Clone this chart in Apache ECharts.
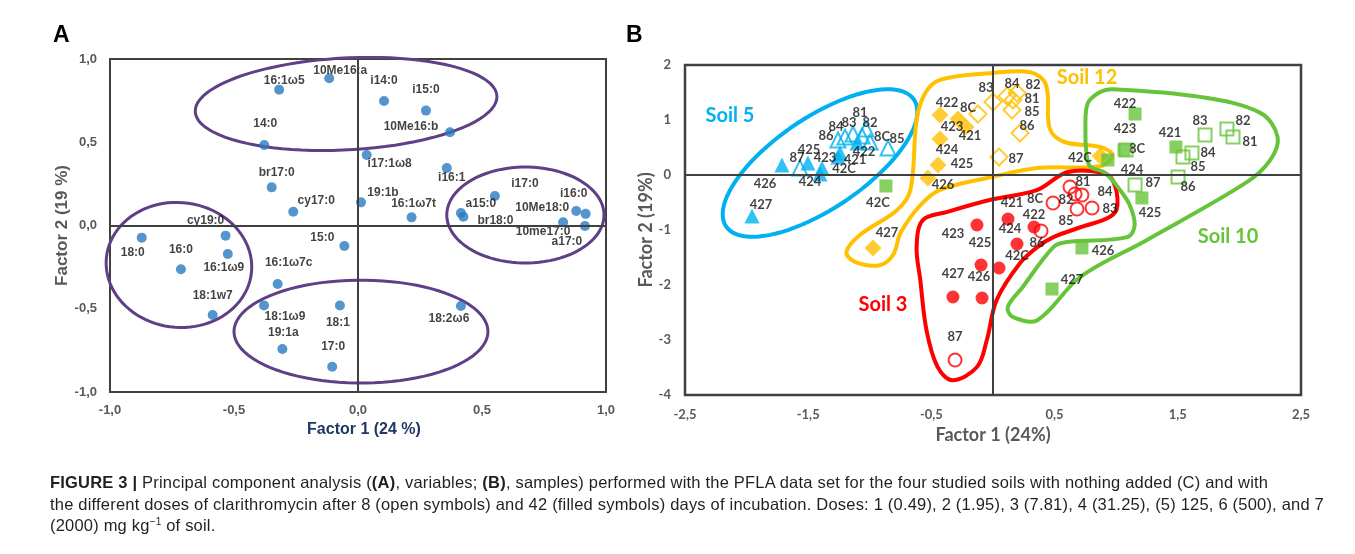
<!DOCTYPE html>
<html>
<head>
<meta charset="utf-8">
<script src="https://cdn.jsdelivr.net/npm/echarts@6/dist/echarts.min.js"></script>
<style>
  html, body { margin: 0; padding: 0; background: #fff; }
  #chart { position: absolute; left: 0; top: 0; width: 1355px; height: 554px; }
  #caption {
    position: absolute; left: 50px; top: 472px;
    font-family: "Liberation Sans", Arial, sans-serif; font-size: 16.5px; letter-spacing: 0.2px;
    line-height: 21.5px; color: #231f20; white-space: nowrap;
  }
  #caption sup { font-size: 10px; vertical-align: 6px; line-height: 0; }
</style>
</head>
<body>
<div id="chart"></div>
<div id="caption">
  <b>FIGURE 3 |</b> Principal component analysis (<b>(A)</b>, variables; <b>(B)</b>, samples) performed with the PFLA data set for the four studied soils with nothing added (C) and with<br>
  the different doses of clarithromycin after 8 (open symbols) and 42 (filled symbols) days of incubation. Doses: 1 (0.49), 2 (1.95), 3 (7.81), 4 (31.25), (5) 125, 6 (500), and 7<br>
  (2000) mg kg<sup>−1</sup> of soil.
</div>
<script>
// ---- Panel A: PLFA variables (loadings) ----
const varNames = ['16:1ω5', '10Me16:a', 'i14:0', 'i15:0', '10Me16:b', '14:0', 'i17:1ω8', 'i16:1',
  'br17:0', 'cy17:0', '19:1b', '16:1ω7t', 'i17:0', 'a15:0', 'br18:0', 'i16:0', '10Me18:0',
  '10me17:0', 'a17:0', '18:0', '16:0', 'cy19:0', '16:1ω9', '18:1w7', '16:1ω7c', '18:1ω9',
  '19:1a', '15:0', '18:1', '17:0', '18:2ω6']
const varF1 = [-0.318, -0.116, 0.105, 0.274, 0.371, -0.378, 0.035, 0.358, -0.348, -0.261, 0.012,
  0.216, 0.552, 0.415, 0.425, 0.918, 0.880, 0.827, 0.915, -0.872, -0.714, -0.534, -0.525, -0.586,
  -0.324, -0.379, -0.305, -0.055, -0.073, -0.104, 0.415]
const varF2 = [0.816, 0.884, 0.748, 0.690, 0.560, 0.483, 0.423, 0.345, 0.229, 0.083, 0.139, 0.049,
  0.177, 0.075, 0.053, 0.070, 0.087, 0.020, -0.003, -0.073, -0.263, -0.061, -0.171, -0.538, -0.351,
  -0.481, -0.742, -0.123, -0.481, -0.848, -0.483]
// label offsets from the point, px
const varLabelOffset = [[5, -9], [11, -8], [0, -20], [0, -21], [-39, -6], [1, -21], [23, 9], [5, 10],
  [5, -15], [23, -11], [22, -10], [2, -14], [30, -12], [20, -9], [32, 4], [-12, -20], [-34, -3],
  [-20, 10], [-18, 16], [-9, 15], [0, -20], [-20, -15], [-4, 14], [0, -19], [11, -21], [21, 11],
  [1, -16], [-22, -8], [-2, 17], [1, -20], [-12, 13]]

// ---- Panel B: samples (42 = 42 days, filled; 8 = 8 days, open) ----
const sampleNames = ['421', '422', '423', '424', '425', '426', '427', '42C',
  '81', '82', '83', '84', '85', '86', '87', '8C']

const soil5F1 = [-1.242, -1.104, -1.388, -1.404, -1.502, -1.713, -1.956, -1.258,
  -1.031, -1.063, -1.136, -1.201, -0.852, -1.258, -1.567, -0.998]
const soil5F2 = [0.400, 0.582, 0.127, 0.018, 0.218, 0.182, -0.745, 0.327,
  0.836, 0.709, 0.745, 0.691, 0.491, 0.636, 0.127, 0.600]
const soil5LabelOffset = [[15, 7], [7, 9], [3, -10], [-10, 8], [1, -13], [-17, 19], [9, -11], [6, 12],
  [-6, -16], [8, -13], [-4, -11], [-9, -10], [9, -9], [-12, -4], [-3, -10], [12, -5]]

const soil12F1 = [-0.219, -0.430, -0.284, -0.430, -0.446, -0.528, -0.974, 0.869,
  0.162, 0.195, 0.000, 0.114, 0.154, 0.219, 0.049, -0.122]
const soil12F2 = [0.873, 1.091, 1.018, 0.655, 0.182, -0.055, -1.327, 0.345,
  1.364, 1.491, 1.327, 1.436, 1.182, 0.764, 0.327, 1.109]
const soil12LabelOffset = [[4, 9], [7, -12], [-6, 8], [7, 11], [24, -1], [15, 7], [14, -15], [-20, 2],
  [19, -1], [16, -8], [-7, -14], [5, -12], [20, 2], [7, -7], [17, 2], [-10, -6]]

const soil10F1 = [1.485, 1.153, 1.063, 0.933, 1.209, 0.722, 0.479, -0.869,
  1.948, 1.899, 1.721, 1.615, 1.542, 1.502, 1.153, 1.080]
const soil10F2 = [0.509, 1.109, 0.455, 0.273, -0.418, -1.327, -2.073, -0.200,
  0.691, 0.836, 0.727, 0.400, 0.327, -0.036, -0.182, 0.455]
const soil10LabelOffset = [[-6, -14], [-10, -10], [1, -21], [24, 10], [8, 15], [21, 3], [20, -9], [-8, 17],
  [17, 5], [16, -8], [-5, -14], [16, 0], [15, 10], [10, 10], [18, -2], [11, -1]]

const soil3F1 = [0.122, 0.333, -0.130, 0.195, -0.097, -0.089, -0.325, 0.049,
  0.625, 0.666, 0.804, 0.722, 0.682, 0.390, -0.308, 0.487]
const soil3F2 = [-0.800, -0.945, -0.909, -1.255, -1.636, -2.236, -2.218, -1.691,
  -0.218, -0.345, -0.600, -0.364, -0.618, -1.018, -3.364, -0.509]
const soil3LabelOffset = [[4, -16], [0, -12], [-24, 9], [-7, -15], [-1, -22], [-3, -21], [0, -23], [18, -12],
  [13, -5], [-9, 6], [18, 1], [23, -3], [-11, 12], [-4, 12], [0, -23], [-18, -4]]

// group outlines drawn by hand in the original, in factor units
const ellipsesA = [
  { cx: -0.048, cy: 0.730, rx: 0.609, ry: 0.276, rot: 3 },
  { cx: 0.675, cy: 0.063, rx: 0.317, ry: 0.288, rot: 0 },
  { cx: -0.722, cy: -0.237, rx: 0.294, ry: 0.375, rot: -6 },
  { cx: 0.012, cy: -0.637, rx: 0.512, ry: 0.309, rot: 0 },
]
const soil5Ellipse = { cx: -1.404, cy: 0.218, rx: 0.92, ry: 0.37, rot: 34 }
const soil12Outline = [[-0.43, 1.73], [-0.02, 1.85], [0.30, 1.87], [0.43, 1.64], [0.46, 0.85], [0.58, 0.60],
  [0.87, 0.51], [0.97, 0.36], [0.87, 0.16], [0.38, 0.13], [-0.02, -0.04], [-0.43, -0.27], [-0.59, -0.55],
  [-0.75, -1.05], [-0.81, -1.45], [-0.92, -1.64], [-1.12, -1.58], [-1.19, -1.40], [-1.08, -1.09],
  [-0.78, -0.64], [-0.67, -0.27], [-0.62, 1.0], [-0.55, 1.49]]
const soil3Outline = [[-0.57, -0.82], [-0.37, -0.67], [-0.02, -0.45], [0.36, -0.27], [0.60, 0.05], [0.87, 0.05],
  [0.97, -0.09], [1.01, -0.55], [0.95, -0.76], [0.71, -0.95], [0.49, -1.13], [0.36, -1.31], [0.22, -1.6],
  [0.03, -2.27], [-0.05, -3.0], [-0.13, -3.49], [-0.33, -3.73], [-0.45, -3.49], [-0.54, -2.82],
  [-0.59, -1.91], [-0.62, -1.31]]
const soil10Outline = [[0.87, 1.51], [0.97, 1.56], [1.68, 1.42], [2.17, 1.13], [2.31, 0.69], [2.25, 0.27],
  [2.06, -0.13], [1.25, -1.18], [0.71, -1.85], [0.36, -2.64], [0.16, -2.58], [0.12, -2.4], [0.24, -2.04],
  [0.49, -1.31], [0.60, -1.22], [1.09, -1.13], [1.15, -0.91], [1.11, -0.55], [1.03, -0.27], [0.91, 0.04],
  [0.79, 0.15], [0.76, 0.36], [0.75, 0.87], [0.77, 1.31]]

const gray = '#595959'
const frame = '#404040'
const purple = '#5f3f86'
const labelFontB = 'Lato, "Open Sans", sans-serif'

function ellipsePoints(c, rx, ry, rotDeg) {
  const r = rotDeg * Math.PI / 180
  const pts = []
  for (let i = 0; i < 90; i++) {
    const t = i / 90 * 2 * Math.PI
    const x = rx * Math.cos(t)
    const y = ry * Math.sin(t)
    pts.push([c[0] + x * Math.cos(r) + y * Math.sin(r), c[1] - x * Math.sin(r) + y * Math.cos(r)])
  }
  return pts
}

function ellipseSeries(e, axis, color, width) {
  return {
    type: 'custom', xAxisIndex: axis, yAxisIndex: axis, silent: true, clip: false, z: 2,
    data: [[e.cx, e.cy]],
    renderItem: (params, api) => {
      const c = api.coord([e.cx, e.cy])
      const s = api.size([e.rx, e.ry])
      const rx = s[0]
      // the tilted soil-5 ellipse uses x units for both radii
      const ry = axis === 1 ? api.size([e.ry, 0])[0] : s[1]
      return {
        type: 'polygon',
        shape: { points: ellipsePoints(c, rx, ry, e.rot) },
        style: { fill: 'none', stroke: color, lineWidth: width },
      }
    },
  }
}

function outlineSeries(verts, color) {
  return {
    type: 'custom', xAxisIndex: 1, yAxisIndex: 1, silent: true, clip: false, z: 2,
    data: [verts[0]],
    renderItem: (params, api) => ({
      type: 'polygon',
      shape: { points: verts.map(v => api.coord(v)), smooth: 0.35 },
      style: { fill: 'none', stroke: color, lineWidth: 4 },
    }),
  }
}

function soilSeries(f1, f2, offsets, symbol, size, color, filled) {
  const data = []
  sampleNames.forEach((n, i) => {
    if (n.startsWith('42') !== filled) return
    data.push({ value: [f1[i], f2[i]], name: n, label: { offset: offsets[i] } })
  })
  return {
    type: 'scatter', xAxisIndex: 1, yAxisIndex: 1, z: filled ? 4 : 3,
    symbol, symbolSize: size, data,
    itemStyle: filled
      ? { color }
      : { color: 'rgba(255,255,255,0)', borderColor: color, borderWidth: 2 },
    label: {
      show: true, position: 'inside', formatter: '{b}',
      color: '#111', fontFamily: labelFontB, fontWeight: 'bold', fontSize: 13,
    },
  }
}

const fmtA = v => v.toFixed(1).replace('.', ',')
const fmtB = v => String(v).replace('.', ',')

const chart = echarts.init(document.getElementById('chart'), null, { renderer: 'canvas' })

const zeroLines = {
  silent: true, symbol: 'none', label: { show: false }, animation: false,
  lineStyle: { color: frame, width: 2, type: 'solid' },
  data: [{ xAxis: 0 }, { yAxis: 0 }],
}

const option = {
  animation: false,
  textStyle: { fontFamily: '"Liberation Sans", Arial, sans-serif' },
  grid: [
    { left: 110, top: 59, width: 496, height: 333, show: true, borderColor: frame, borderWidth: 2 },
    { left: 685, top: 65, width: 616, height: 330, show: true, borderColor: frame, borderWidth: 2.5 },
  ],
  xAxis: [
    {
      gridIndex: 0, type: 'value', min: -1, max: 1, interval: 0.5,
      axisLine: { show: false }, axisTick: { show: false }, splitLine: { show: false },
      axisLabel: { color: gray, fontWeight: 'bold', fontSize: 13, margin: 12, formatter: fmtA },
      name: 'Factor 1 (24 %)', nameLocation: 'middle', nameGap: 27,
      nameTextStyle: { color: '#1f3864', fontWeight: 'bold', fontSize: 16, padding: [0, 0, 0, 12] },
    },
    {
      gridIndex: 1, type: 'value', min: -2.5, max: 2.5, interval: 1,
      axisLine: { show: false }, axisTick: { show: false }, splitLine: { show: false },
      axisLabel: { color: gray, fontWeight: 'bold', fontSize: 13, margin: 13, fontFamily: labelFontB, formatter: fmtB },
      name: 'Factor 1 (24%)', nameLocation: 'middle', nameGap: 29,
      nameTextStyle: { color: gray, fontWeight: 'bold', fontSize: 18, fontFamily: labelFontB },
    },
  ],
  yAxis: [
    {
      gridIndex: 0, type: 'value', min: -1, max: 1, interval: 0.5,
      axisLine: { show: false }, axisTick: { show: false }, splitLine: { show: false },
      axisLabel: { color: gray, fontWeight: 'bold', fontSize: 13, margin: 13, formatter: fmtA },
      name: 'Factor 2 (19 %)', nameLocation: 'middle', nameGap: 39,
      nameTextStyle: { color: gray, fontWeight: 'bold', fontSize: 17 },
    },
    {
      gridIndex: 1, type: 'value', min: -4, max: 2, interval: 1,
      axisLine: { show: false }, axisTick: { show: false }, splitLine: { show: false },
      axisLabel: { color: gray, fontWeight: 'bold', fontSize: 13, margin: 14, fontFamily: labelFontB, formatter: fmtB },
      name: 'Factor 2 (19%)', nameLocation: 'middle', nameGap: 28,
      nameTextStyle: { color: gray, fontWeight: 'bold', fontSize: 18, fontFamily: labelFontB },
    },
  ],
  graphic: [
    { type: 'text', left: 53, top: 24, style: { text: 'A', font: 'bold 23px "Liberation Sans", Arial', fill: '#000' } },
    { type: 'text', left: 626, top: 24, style: { text: 'B', font: 'bold 23px "Liberation Sans", Arial', fill: '#000' } },
    { type: 'text', x: 730, y: 116, style: { text: 'Soil 5', font: 'bold 20px Lato, sans-serif', fill: '#00b0f0', align: 'center', verticalAlign: 'middle' } },
    { type: 'text', x: 1087, y: 78, style: { text: 'Soil 12', font: 'bold 20px Lato, sans-serif', fill: '#ffc000', align: 'center', verticalAlign: 'middle' } },
    { type: 'text', x: 1228, y: 237, style: { text: 'Soil 10', font: 'bold 20px Lato, sans-serif', fill: '#66c43a', align: 'center', verticalAlign: 'middle' } },
    { type: 'text', x: 883, y: 305, style: { text: 'Soil 3', font: 'bold 20px Lato, sans-serif', fill: '#ff0000', align: 'center', verticalAlign: 'middle' } },
  ],
  series: [
    // panel A
    ...ellipsesA.map(e => ellipseSeries(e, 0, purple, 3)),
    {
      type: 'scatter', xAxisIndex: 0, yAxisIndex: 0, z: 3,
      symbolSize: 10,
      itemStyle: { color: '#2b7bc0' },
      data: varNames.map((n, i) => ({ value: [varF1[i], varF2[i]], name: n, label: { offset: varLabelOffset[i] } })),
      label: {
        show: true, position: 'inside', formatter: '{b}',
        color: '#111', fontWeight: 'bold', fontSize: 12,
      },
      markLine: zeroLines,
    },
    // panel B
    Object.assign(ellipseSeries(soil5Ellipse, 1, '#00b0f0', 4), { markLine: zeroLines }),
    outlineSeries(soil12Outline, '#ffc000'),
    outlineSeries(soil3Outline, '#ff0000'),
    outlineSeries(soil10Outline, '#66c43a'),
    soilSeries(soil5F1, soil5F2, soil5LabelOffset, 'triangle', 15, '#00b0f0', false),
    soilSeries(soil5F1, soil5F2, soil5LabelOffset, 'triangle', 15, '#00b0f0', true),
    soilSeries(soil12F1, soil12F2, soil12LabelOffset, 'diamond', 17, '#ffc000', false),
    soilSeries(soil12F1, soil12F2, soil12LabelOffset, 'diamond', 17, '#ffc000', true),
    soilSeries(soil10F1, soil10F2, soil10LabelOffset, 'rect', 13, '#66c43a', false),
    soilSeries(soil10F1, soil10F2, soil10LabelOffset, 'rect', 13, '#66c43a', true),
    soilSeries(soil3F1, soil3F2, soil3LabelOffset, 'circle', 13, '#ff0000', false),
    soilSeries(soil3F1, soil3F2, soil3LabelOffset, 'circle', 13, '#ff0000', true),
  ],
}

chart.setOption(option)
</script>
</body>
</html>
